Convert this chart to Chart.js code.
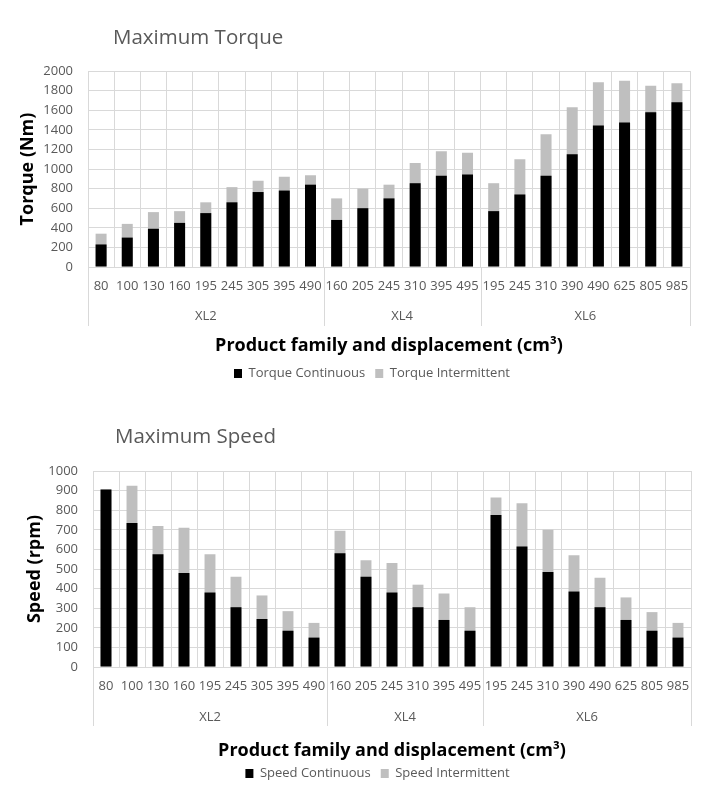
<!DOCTYPE html>
<html>
<head>
<meta charset="utf-8">
<title>Maximum Torque / Maximum Speed</title>
<script src="https://cdn.jsdelivr.net/npm/chart.js@4"></script>
<style>
    body { margin: 0; background: #ffffff; }
    .chart-box { position: absolute; left: 0; width: 718px; height: 390px; }
    #torque-box { top: 0; }
    #speed-box { top: 400px; }
</style>
</head>
<body>
<div class="chart-box" id="torque-box"><canvas id="torqueChart" width="718" height="390"></canvas></div>
<div class="chart-box" id="speed-box"><canvas id="speedChart" width="718" height="390"></canvas></div>
<script>
// Categorias (deslocamento) e famílias
const displacements = ['80', '100', '130', '160', '195', '245', '305', '395', '490',
                       '160', '205', '245', '310', '395', '495',
                       '195', '245', '310', '390', '490', '625', '805', '985'];
const families = ['XL2', 'XL4', 'XL6'];
const familySizes = [9, 6, 8];

// Torque (Nm)
const torqueContinuous = [230, 300, 390, 450, 550, 660, 765, 780, 840,
                          480, 600, 700, 855, 930, 945,
                          570, 740, 930, 1150, 1445, 1475, 1580, 1680];
const torqueIntermittent = [340, 440, 560, 570, 660, 815, 880, 920, 935,
                            700, 800, 840, 1060, 1180, 1165,
                            855, 1100, 1355, 1630, 1885, 1900, 1850, 1875];
const torqueTicks = [0, 200, 400, 600, 800, 1000, 1200, 1400, 1600, 1800, 2000];

// Speed (rpm)
const speedContinuous = [905, 735, 575, 480, 380, 305, 245, 185, 150,
                         580, 460, 380, 305, 240, 185,
                         775, 615, 485, 385, 305, 240, 185, 150];
const speedIntermittent = [905, 925, 720, 710, 575, 460, 365, 285, 225,
                           695, 545, 530, 420, 375, 305,
                           865, 835, 700, 570, 455, 355, 280, 225];
const speedTicks = [0, 100, 200, 300, 400, 500, 600, 700, 800, 900, 1000];

const FONT = '"Open Sans", "DejaVu Sans", sans-serif';
const GREY_TEXT = '#595959';
const GRID = '#d9d9d9';
const GRID_MINOR = '#f0f0f0';

Chart.defaults.font.family = FONT;

// Título do gráfico, alinhado à esquerda como no Excel
const headingPlugin = {
    id: 'heading',
    afterDraw(chart, args, opts) {
        const { ctx } = chart;
        ctx.save();
        ctx.font = `${opts.size}px ${FONT}`;
        ctx.fillStyle = GREY_TEXT;
        ctx.textAlign = 'left';
        ctx.textBaseline = 'middle';
        ctx.fillText(opts.text, opts.x, opts.y);
        ctx.restore();
    }
};

// Desloca a legenda na horizontal (o Excel não a centra no canvas)
const legendShiftPlugin = {
    id: 'legendShift',
    afterLayout(chart, args, opts) {
        const legend = chart.legend;
        if (!legend) return;
        legend.left += opts.dx;
        legend.right += opts.dx;
    }
};

// Segundo nível do eixo X (famílias) com as linhas separadoras
const familyRowPlugin = {
    id: 'familyRow',
    afterDraw(chart, args, opts) {
        const { ctx, chartArea } = chart;
        const x = chart.scales.x;
        const half = (x.getPixelForValue(1) - x.getPixelForValue(0)) / 2;
        const drawSeparator = (px) => {
            const p = Math.round(px) + 0.5;
            ctx.beginPath();
            ctx.moveTo(p, chartArea.bottom);
            ctx.lineTo(p, chartArea.bottom + opts.lineLength);
            ctx.stroke();
        };
        ctx.save();
        ctx.strokeStyle = GRID;
        ctx.lineWidth = 1;
        ctx.font = `13px ${FONT}`;
        ctx.fillStyle = GREY_TEXT;
        ctx.textAlign = 'center';
        ctx.textBaseline = 'middle';
        drawSeparator(x.getPixelForValue(0) - half);
        let start = 0;
        opts.labels.forEach((label, i) => {
            const end = start + opts.sizes[i];
            const left = x.getPixelForValue(start) - half;
            const right = x.getPixelForValue(end - 1) + half;
            ctx.fillText(label, (left + right) / 2, chartArea.bottom + opts.labelOffset);
            drawSeparator(right);
            start = end;
        });
        ctx.restore();
    }
};

function buildChart(canvasId, setup) {
    const isMajor = (v) => setup.majorTicks.includes(v);
    return new Chart(document.getElementById(canvasId), {
        type: 'bar',
        data: {
            labels: displacements,
            datasets: [
                { label: setup.names[0], data: setup.continuous, backgroundColor: '#000000' },
                { label: setup.names[1], data: setup.intermittent, backgroundColor: '#bfbfbf' }
            ]
        },
        options: {
            responsive: false,
            animation: false,
            layout: { padding: { top: 71, right: setup.rightPad, left: 0, bottom: 0 } },
            datasets: { bar: { barPercentage: 1, categoryPercentage: 0.42 } },
            scales: {
                x: {
                    stacked: true,
                    grid: { color: GRID, offset: true, drawTicks: false },
                    border: { color: GRID },
                    ticks: { color: GREY_TEXT, font: { size: 13 }, padding: 11, autoSkip: false, maxRotation: 0 },
                    title: {
                        display: true,
                        text: 'Product family and displacement (cm³)',
                        color: '#000000',
                        font: { size: 18, weight: 'bold' },
                        padding: { top: 0, bottom: setup.xTitlePad }
                    },
                    afterFit: (scale) => { scale.height = 90; }
                },
                y: {
                    stacked: false,
                    min: 0,
                    max: setup.max,
                    ticks: {
                        stepSize: setup.minorStep,
                        color: GREY_TEXT,
                        font: { size: 13 },
                        padding: 15,
                        callback: (v) => isMajor(v) ? v : ''
                    },
                    grid: {
                        drawTicks: false,
                        color: (ctx) => isMajor(ctx.tick.value) ? GRID : GRID_MINOR
                    },
                    border: { display: false },
                    title: {
                        display: true,
                        text: setup.yTitle,
                        color: '#000000',
                        font: { size: 18, weight: 'bold' },
                        padding: { top: setup.yTitlePad, bottom: 0 }
                    },
                    afterFit: (scale) => { scale.width = setup.yWidth; }
                }
            },
            plugins: {
                legend: {
                    position: 'bottom',
                    labels: { color: GREY_TEXT, font: { size: 13 }, boxWidth: 8, boxHeight: 9, padding: 10 }
                },
                legendShift: { dx: setup.legendShift },
                tooltip: { enabled: false },
                heading: { text: setup.title, x: setup.titleX, y: setup.titleY, size: 20.5 },
                familyRow: { labels: families, sizes: familySizes, lineLength: 59, labelOffset: setup.familyOffset }
            }
        },
        plugins: [headingPlugin, legendShiftPlugin, familyRowPlugin]
    });
}

buildChart('torqueChart', {
    title: 'Maximum Torque', titleX: 113, titleY: 38,
    names: ['Torque Continuous', 'Torque Intermittent'],
    continuous: torqueContinuous, intermittent: torqueIntermittent,
    majorTicks: torqueTicks, max: 2000, minorStep: 40,
    yTitle: 'Torque (Nm)', yTitlePad: 17,
    yWidth: 88, rightPad: 28, legendShift: 27,
    xTitlePad: 0, familyOffset: 49
});

buildChart('speedChart', {
    title: 'Maximum Speed', titleX: 115, titleY: 37,
    names: ['Speed Continuous', 'Speed Intermittent'],
    continuous: speedContinuous, intermittent: speedIntermittent,
    majorTicks: speedTicks, max: 1000, minorStep: 20,
    yTitle: 'Speed (rpm)', yTitlePad: 24,
    yWidth: 93, rightPad: 27, legendShift: 32,
    xTitlePad: -5, familyOffset: 50
});
</script>
</body>
</html>
